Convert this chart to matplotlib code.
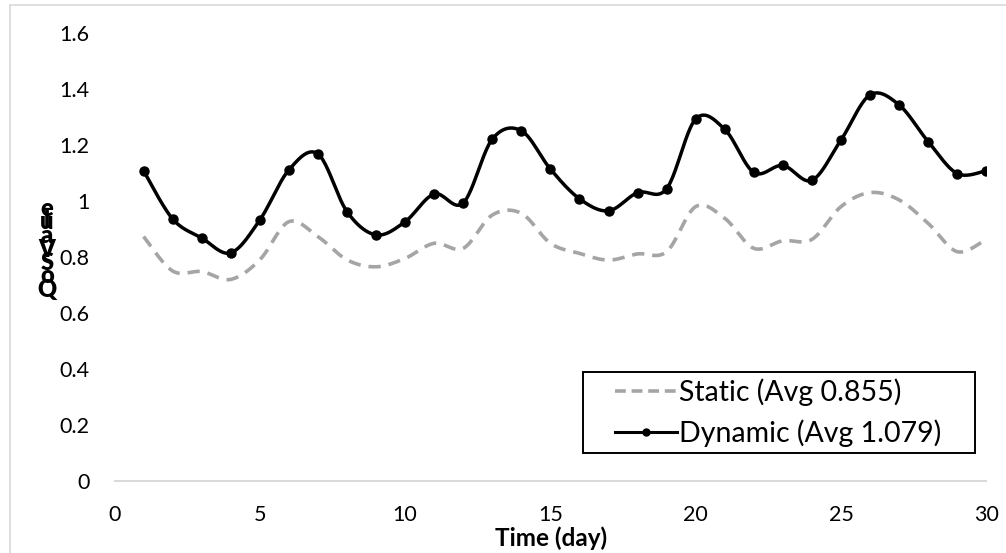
import numpy as np
import matplotlib
matplotlib.use("Agg")
import matplotlib.pyplot as plt
from matplotlib.lines import Line2D
from matplotlib.patches import Rectangle

plt.rcParams['font.family'] = ['Lato', 'DejaVu Sans']

days = list(range(1, 31))
static_qos = [0.873, 0.750, 0.748, 0.720, 0.790, 0.926, 0.873, 0.790, 0.765, 0.795,
              0.849, 0.831, 0.950, 0.956, 0.849, 0.813, 0.789, 0.811, 0.819, 0.980,
              0.938, 0.831, 0.858, 0.863, 0.980, 1.030, 1.004, 0.920, 0.819, 0.863]
dynamic_qos = [1.108, 0.936, 0.868, 0.815, 0.932, 1.111, 1.168, 0.962, 0.879, 0.926,
               1.025, 0.993, 1.221, 1.251, 1.114, 1.008, 0.965, 1.030, 1.044, 1.293,
               1.256, 1.102, 1.127, 1.074, 1.218, 1.379, 1.343, 1.212, 1.098, 1.108]
static_label = "Static (Avg 0.855)"
dynamic_label = "Dynamic (Avg 1.079)"
x_label = "Time (day)"
y_label = "QoS Value"
x_ticks = [0, 5, 10, 15, 20, 25, 30]
y_ticks = [0, 0.2, 0.4, 0.6, 0.8, 1.0, 1.2, 1.4, 1.6]
y_tick_labels = ["0", "0.2", "0.4", "0.6", "0.8", "1", "1.2", "1.4", "1.6"]


def smooth(x, y, n=24):
    """Bezier smoothing through every point (Catmull-Rom control points)."""
    x = np.asarray(x, float)
    y = np.asarray(y, float)
    px = np.concatenate([[x[0]], x, [x[-1]]])
    py = np.concatenate([[y[0]], y, [y[-1]]])
    t = np.linspace(0, 1, n)[:, None]
    xs, ys = [], []
    for i in range(1, len(px) - 2):
        p0 = np.array([px[i], py[i]])
        p3 = np.array([px[i + 1], py[i + 1]])
        b1 = p0 + (np.array([px[i + 1], py[i + 1]]) - np.array([px[i - 1], py[i - 1]])) / 6
        b2 = p3 - (np.array([px[i + 2], py[i + 2]]) - np.array([px[i], py[i]])) / 6
        seg = ((1 - t) ** 3) * p0 + 3 * ((1 - t) ** 2) * t * b1 + 3 * (1 - t) * t ** 2 * b2 + t ** 3 * p3
        if i > 1:
            seg = seg[1:]
        xs.append(seg[:, 0])
        ys.append(seg[:, 1])
    return np.concatenate(xs), np.concatenate(ys)


fig = plt.figure(figsize=(10.06, 5.53), dpi=100)
W, H = 1006, 553

# light chart-area frame
border = '#d9d9d9'
fig.add_artist(Line2D([10 / W, 10 / W], [0, 1 - 5 / H], color=border, lw=1.2,
                      transform=fig.transFigure))
fig.add_artist(Line2D([10 / W, 1.0], [1 - 5 / H, 1 - 5 / H], color=border, lw=1.2,
                      transform=fig.transFigure))

ax = fig.add_axes([114.5 / W, (H - 481) / H, 871.8 / W, 448 / H])

sx, sy = smooth(days, static_qos)
ax.plot(sx, sy, color='#a5a5a5', lw=2.6, dashes=(3.4, 2.2), solid_capstyle='butt')
dx, dy = smooth(days, dynamic_qos)
ax.plot(dx, dy, color='black', lw=2.5, solid_capstyle='round')
ax.plot(days, dynamic_qos, ls='none', marker='o', ms=6.5, color='black')

ax.set_xlim(0, 30)
ax.set_ylim(0, 1.6)
ax.set_xticks(x_ticks)
ax.set_yticks(y_ticks)
ax.set_yticklabels(y_tick_labels)
ax.tick_params(axis='both', length=0, labelsize=15.5, colors='black')
ax.tick_params(axis='y', pad=18)
ax.tick_params(axis='x', pad=17)
for s in ('left', 'top', 'right'):
    ax.spines[s].set_visible(False)
ax.spines['bottom'].set_color(border)
ax.spines['bottom'].set_linewidth(1.4)

fig.text(551.5 / W, 1 - 538 / H, x_label, ha='center', va='center',
         fontsize=17.5, fontweight='bold')

# stacked y-axis title, one upright glyph per slot
y_slots = {0: 290, 1: 276, 2: 263, 4: 250, 5: 236, 6: 221, 7: 222, 8: 209}
for idx, ch in enumerate(y_label):
    if idx in y_slots:
        fig.text(47 / W, 1 - y_slots[idx] / H, ch, ha='center', va='center',
                 fontsize=17, fontweight='heavy')

handles = [
    Line2D([], [], color='#a5a5a5', lw=2.6, dashes=(3.0, 1.6)),
    Line2D([], [], color='black', lw=2.2, marker='o', ms=5),
]
leg = ax.legend(handles, [static_label, dynamic_label], loc='center',
                bbox_to_anchor=(778 / W, 1 - 412.5 / H), bbox_transform=fig.transFigure,
                borderaxespad=0, fontsize=20.5, frameon=False,
                handlelength=2.2, handletextpad=0.05,
                labelspacing=0.45, borderpad=0.2, numpoints=1)

# legend box
fig.add_artist(Rectangle((583 / W, 1 - 453 / H), (975 - 583) / W, (453 - 372) / H,
                         transform=fig.transFigure, facecolor='none',
                         edgecolor='black', lw=1.4, zorder=5))

fig.savefig('out.png', dpi=100)
